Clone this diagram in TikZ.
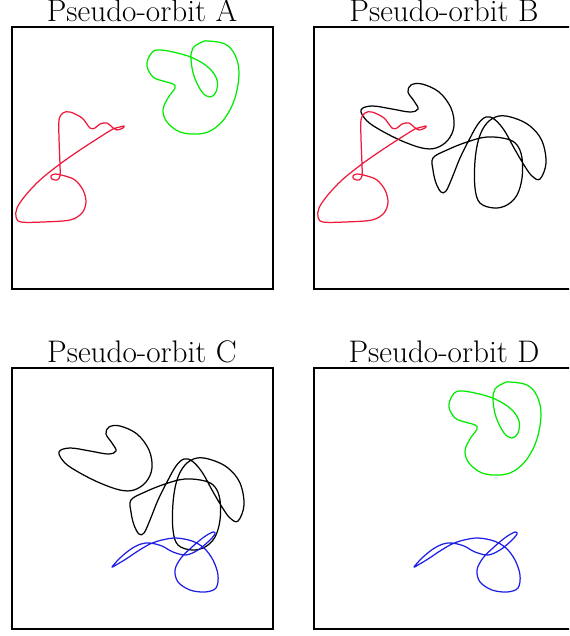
\documentclass[tikz,border=0pt]{standalone}
\usepackage{tikz}
\definecolor{orbitred}{RGB}{238,24,58}
\definecolor{orbitgreen}{RGB}{0,235,0}
\definecolor{orbitblue}{RGB}{30,30,228}
\tikzset{
  panelframe/.style={draw=black, line width=1pt},
  paneltitle/.style={anchor=base, font=\fontsize{15.6}{18}\selectfont},
  orbitline/.style={line width=0.62pt, line join=round}
}
% orbit shapes, in pixel coordinates of the panel where they first appear
\newcommand{\drawredorbit}{%
  \draw[orbitline,orbitred] plot[smooth cycle,tension=0.55] coordinates {
    (113,129) (100,137) (80,150) (60,164) (40,180) (25,196) (17,208) (16,217)
    (21,222) (43,222) (70,220) (82,213) (86,202) (83,190) (75,180) (65,176)
    (55,174) (51,176) (52,179) (57,180) (60,176) (60,165) (59,138) (59,120)
    (63,113) (70,112) (82,118) (90,128) (95,128) (100,124) (107,123) (112,127)
    (117,130) (123,128) (124,126) (120,127)};}
\newcommand{\drawgreenorbit}{%
  \draw[orbitline,orbitgreen] plot[smooth cycle,tension=0.6] coordinates {
    (147,66) (150,55) (157,50) (173,52) (193,58) (209,68) (217,80) (216,92)
    (210,97) (202,92) (194,76) (191,59) (193,48) (202,42) (208,41) (225,44)
    (235,55) (239,73) (235,98) (225,118) (212,130) (198,134) (180,132)
    (167,122) (163,110) (168,98) (175,88) (173,84) (163,81) (153,77)};}
\newcommand{\drawblackorbit}{%
  \draw[orbitline,black] plot[smooth cycle,tension=0.6] coordinates {
    (59,452) (70,448) (90,451) (108,454) (116,451) (112,443) (106,434)
    (109,427) (120,426) (137,434) (149,450) (152,468) (146,482) (134,490)
    (120,490) (100,483) (80,473) (65,463)};
  \draw[orbitline,black] plot[smooth cycle,tension=0.6] coordinates {
    (131,500) (145,492) (165,484) (185,479) (205,481) (215,487) (220,500)
    (220,520) (215,537) (205,547) (192,550) (178,545) (173,530) (173,503)
    (177,480) (185,465) (197,458) (212,460) (228,468) (240,483) (244,505)
    (238,521) (230,518) (222,507) (212,490) (202,472) (192,461) (184,459)
    (176,466) (167,482) (158,500) (150,520) (144,533) (139,534) (134,525)
    (131,512)};}
\newcommand{\drawblueorbit}{%
  \draw[orbitline,orbitblue] plot[smooth cycle,tension=0.55] coordinates {
    (112,567) (116,565) (126,559) (138,551) (150,544) (162,540) (176,538)
    (192,541) (204,548) (213,560) (218,575) (216,588) (205,592) (190,590)
    (178,582) (175,570) (181,558) (192,547) (204,537) (213,532) (215,534)
    (209,541) (198,550) (186,555) (173,552) (162,546) (150,543) (141,544)
    (131,549) (120,558)};}

\begin{document}
\begin{tikzpicture}[x=0.5pt,y=-0.5pt]
  \useasboundingbox (0,0) rectangle (569,636);
  \clip (0,0) rectangle (569,636);
  % frames and titles
  \foreach \name/\px/\py/\lab in {pa/11.5/27.5/A, pb/313.5/27.5/B, pc/11.5/368/C, pd/313.5/368/D} {
    \draw[panelframe] (\px,\py) rectangle ++(261,261);
    \node[paneltitle] (title\name) at (\px+130.5,\py-6) {Pseudo-orbit \lab};
  }
  % A: red and green
  \drawredorbit
  \drawgreenorbit
  % B: black and red
  \begin{scope}[shift={(302,-342)}]
    \drawblackorbit
  \end{scope}
  \begin{scope}[shift={(302,0)}]
    \drawredorbit
  \end{scope}
  % C: black and blue
  \drawblackorbit
  \drawblueorbit
  % D: green and blue
  \begin{scope}[shift={(302,341)}]
    \drawgreenorbit
  \end{scope}
  \begin{scope}[shift={(302,0)}]
    \drawblueorbit
  \end{scope}
\end{tikzpicture}
\end{document}
